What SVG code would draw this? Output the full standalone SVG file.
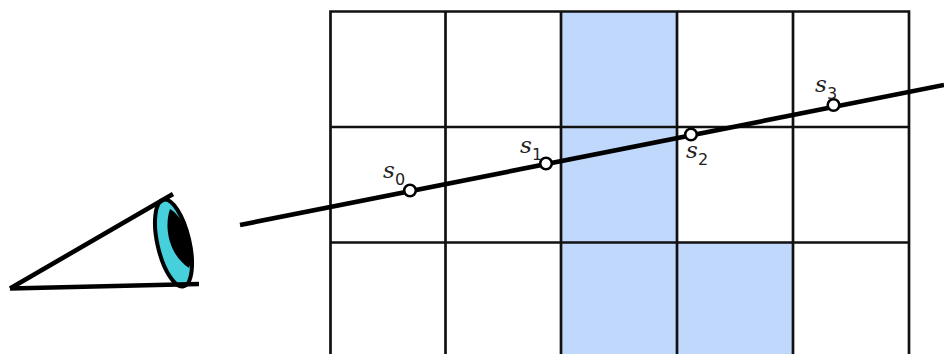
<svg xmlns="http://www.w3.org/2000/svg" width="944" height="354" viewBox="0 0 944 354">
<style>
.grid{stroke:#111;stroke-width:2.7;fill:none}
.ray{stroke:#000;stroke-width:4.600;fill:none}
.pt{fill:#fff;stroke:#000;stroke-width:2.600}
.cell{fill:#c1d8fd}
.s{font-family:"DejaVu Serif","Liberation Serif",serif;font-style:italic;font-size:23px;fill:#222}
.sub{font-family:"DejaVu Sans","Liberation Sans",sans-serif;font-size:16px;fill:#222}
</style>
<rect width="944" height="354" fill="#fff"/>
<g id="cells">
<rect class="cell" x="561" y="11" width="116" height="343"/>
<rect class="cell" x="677" y="242" width="116" height="112"/>
</g>
<g id="grid">
<path class="grid" d="M330.500 354V11.500H909V354M445.500 11V354M561 11V354M677 11V354M793 11V354M909 11V354M330 127H909M330 242.500H909"/>
</g>
<g id="eye">
<ellipse cx="173.500" cy="243" rx="16" ry="44.500" transform="rotate(-13 173.500 243)" fill="#45d0dc" stroke="#000" stroke-width="4"/>
<path d="M170 209C164 226 168 254 189 268C193 258 192 240 186 228C181 218 175 212 170 209Z" fill="#000"/>
<path d="M10 288.500L173 194M10 288.500L199 284" stroke="#000" stroke-width="4.600" fill="none"/>
</g>
<g id="connectors">
<path class="ray" d="M240 225L944 85"/>
</g>
<g id="s0"><circle class="pt" cx="410" cy="190.500" r="5.800"/><text class="s" x="383" y="178">s</text><text class="sub" x="395" y="185">0</text></g>
<g id="s1"><circle class="pt" cx="546" cy="163.500" r="5.800"/><text class="s" x="520" y="153">s</text><text class="sub" x="532" y="160">1</text></g>
<g id="s2"><circle class="pt" cx="691" cy="134.500" r="5.800"/><text class="s" x="686" y="158">s</text><text class="sub" x="698" y="165">2</text></g>
<g id="s3"><circle class="pt" cx="833.500" cy="105" r="5.800"/><text class="s" x="815" y="92">s</text><text class="sub" x="827" y="99">3</text></g>
</svg>
